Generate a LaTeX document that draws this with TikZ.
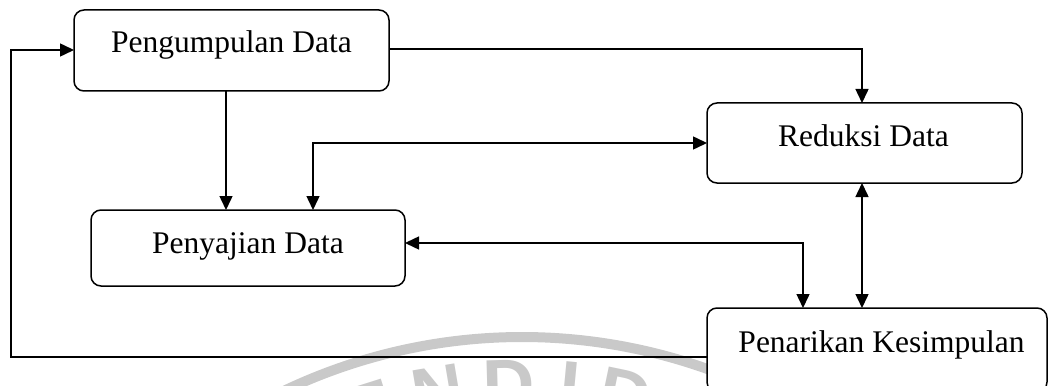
\documentclass[tikz,border=0pt]{standalone}
\usepackage{fontspec}
\setmainfont{Liberation Serif}
\newfontfamily\wmfont{Liberation Sans}
\usetikzlibrary{arrows.meta,calc}

\tikzset{
  box/.style={draw, line width=1.5pt, rounded corners=10pt, fill=white,
    inner sep=0pt, outer sep=0pt},
  lbl/.style={anchor=base, inner sep=0pt, font=\fontsize{31.5}{36}\selectfont},
  conn/.style={line width=1.5pt},
  tip/.style={-{Triangle[length=14pt,width=13pt]}},
  bothtips/.style={{Triangle[length=14pt,width=13pt]}-{Triangle[length=14pt,width=13pt]}},
  wmark/.style={color=black!21},
  wmletter/.style={wmark, anchor=north, inner sep=0pt,
    font=\wmfont\bfseries\fontsize{72}{72}\selectfont},
}

\begin{document}
\begin{tikzpicture}[x=1pt, y=-1pt]
  \useasboundingbox (0,0) rectangle (1048,385);

  % faint seal in the background
  \coordinate (seal) at (522,890);
  \draw[wmark, line width=10pt] (seal) ++(-120:553) arc[start angle=-120, end angle=-60, radius=553];
  \foreach \ch/\dx [count=\i] in {E/-160, N/-88, D/-14, I/50, D/108, I/172} {
    \pgfmathsetmacro{\ang}{asin(\dx/530)}
    \node[wmletter, rotate=-\ang] (wm\i) at ($(seal)+(-90+\ang:530)$) {\ch};
  }

  % boxes
  \node[box, minimum width=315, minimum height=81] (PD) at (231.5,50.5) {};
  \node[box, minimum width=315, minimum height=80] (RD) at (864.5,143) {};
  \node[box, minimum width=314, minimum height=76] (PJ) at (248,248) {};
  \node[box, minimum width=340, minimum height=84] (PK) at (877,350) {};

  % labels
  \node[lbl] (tPD) at (231.5,53) {Pengumpulan Data};
  \node[lbl] (tRD) at (863.5,146) {Reduksi Data};
  \node[lbl] (tPJ) at (248,253) {Penyajian Data};
  \node[lbl] (tPK) at (881.5,352) {Penarikan Kesimpulan};

  % routing points
  \coordinate (fbBot) at (11,357);
  \coordinate (fbTop) at (11,50);
  \coordinate (topR) at (862,49);
  \coordinate (midL) at (313,143);
  \coordinate (midR) at (803,243);
  \coordinate (downX) at (226,0);
  \coordinate (vertX) at (862,0);

  % connectors
  \draw[conn, tip] (PK.west |- fbBot) -- (fbBot) -- (fbTop) -- (PD.west |- fbTop);
  \draw[conn, tip] (PD.east |- topR) -- (topR) -- (RD.north -| topR);
  \draw[conn, tip] (PD.south -| downX) -- (PJ.north -| downX);
  \draw[conn, bothtips] (RD.west |- midL) -- (midL) -- (PJ.north -| midL);
  \draw[conn, bothtips] (PJ.east |- midR) -- (midR) -- (PK.north -| midR);
  \draw[conn, bothtips] (RD.south -| vertX) -- (PK.north -| vertX);
\end{tikzpicture}
\end{document}
